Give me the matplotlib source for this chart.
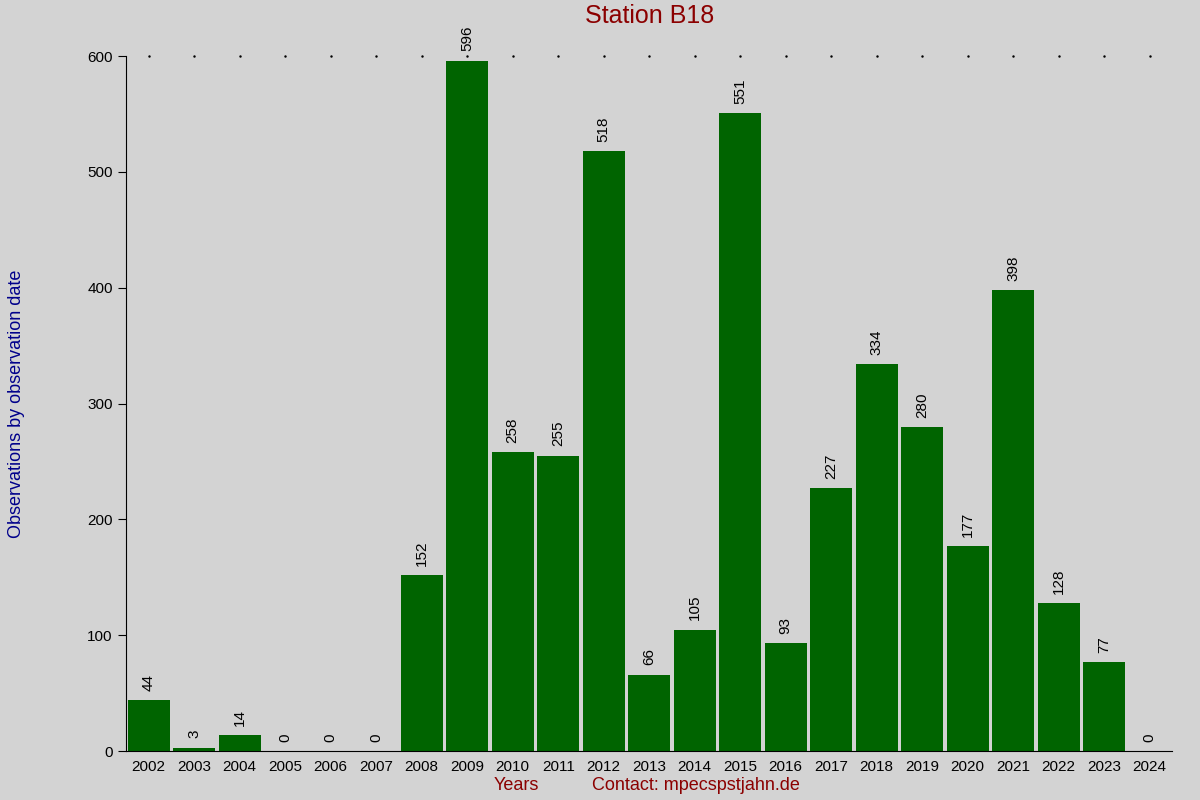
import matplotlib
matplotlib.use("Agg")
import matplotlib.pyplot as plt

years = [str(y) for y in range(2002, 2025)]
values = [44, 3, 14, 0, 0, 0, 152, 596, 258, 255, 518, 66, 105, 551, 93, 227, 334, 280, 177, 398, 128, 77, 0]

fig = plt.figure(figsize=(12, 8), dpi=100, facecolor="#d3d3d3")
ax = fig.add_axes([0.105, 0.061, 0.872, 0.869], facecolor="#d3d3d3")
x = range(len(years))
ax.bar(x, values, width=0.92, color="#006400")
for i, v in zip(x, values):
    ax.text(i, v + 8, str(v), rotation=90, ha="center", va="bottom", fontsize=11, family="Liberation Sans")
ax.set_xlim(-0.5, len(years) - 0.5)
ax.set_ylim(0, 600)
ax.set_xticks(list(x))
ax.set_xticklabels(years, fontsize=11, family="Liberation Sans")
ax.set_yticks(range(0, 601, 100))
ax.set_yticklabels([str(v) for v in range(0, 601, 100)], fontsize=11, family="Liberation Sans")
ax.tick_params(axis="x", length=0, pad=6)
ax.tick_params(axis="y", length=6, direction="out")
for s in ["top", "right"]:
    ax.spines[s].set_visible(False)
for i in x:
    ax.plot(i, 600, marker=".", color="black", markersize=1.5, clip_on=False)
ax.set_title("Station B18", color="#8b0000", fontsize=18, family="Liberation Sans", pad=24)
ax.set_ylabel("Observations by observation date", color="#00008b", fontsize=13, family="Liberation Sans", labelpad=45)
fig.text(0.43, 0.013, "Years", color="#8b0000", fontsize=13, family="Liberation Sans", ha="center")
fig.text(0.58, 0.013, "Contact: mpecspstjahn.de", color="#8b0000", fontsize=13, family="Liberation Sans", ha="center")
fig.savefig("out.png", dpi=100, facecolor=fig.get_facecolor())
